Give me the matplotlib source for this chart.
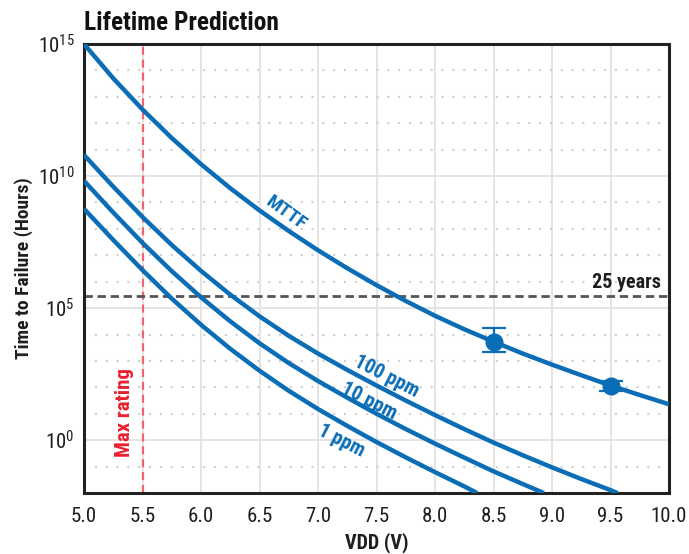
import numpy as np
import matplotlib
matplotlib.use("Agg")
import matplotlib.pyplot as plt
from matplotlib import font_manager as fm
from matplotlib.ticker import FixedLocator, FixedFormatter, NullFormatter


def pick_condensed_font():
    """Return (family, stretch) for the narrowest sans font available."""
    entries = fm.fontManager.ttflist
    names = {f.name for f in entries}
    for n in ["Liberation Sans Narrow", "Roboto Condensed", "Open Sans Condensed",
              "Noto Sans Condensed", "DejaVu Sans Condensed"]:
        if n in names:
            return n, "normal"
    for pref in ["DejaVu Sans", "Noto Sans", "Roboto", "Open Sans"]:
        for f in entries:
            if f.name == pref and str(f.stretch) in ("condensed", "semi-condensed",
                                                     "extra-condensed"):
                return pref, str(f.stretch)
    return "DejaVu Sans", "normal"


FAMILY, STRETCH = pick_condensed_font()
plt.rcParams["font.family"] = [FAMILY, "DejaVu Sans"]
plt.rcParams["font.stretch"] = STRETCH
plt.rcParams["mathtext.fontset"] = "custom"
plt.rcParams["mathtext.rm"] = f"{FAMILY}:stretch={STRETCH}"
plt.rcParams["mathtext.default"] = "rm"

# ---- data (log10 of hours) -------------------------------------------------
vdd = [5.0, 5.25, 5.5, 5.75, 6.0, 6.25, 6.5, 6.75, 7.0, 7.25, 7.5,
       7.75, 8.0, 8.25, 8.5, 8.75, 9.0, 9.25, 9.5, 9.75, 10.0]
mttf_log = [15.0, 13.7, 12.52, 11.44, 10.45, 9.54, 8.7, 7.92, 7.19, 6.51, 5.87,
            5.27, 4.71, 4.2, 3.73, 3.28, 2.86, 2.46, 2.07, 1.71, 1.36]

ppm100_vdd = [5.0, 5.25, 5.5, 5.75, 6.0, 6.25, 6.5, 6.75, 7.0, 7.25, 7.5,
              7.75, 8.0, 8.25, 8.5, 8.75, 9.0, 9.25, 9.5, 9.56]
ppm100_log = [10.8, 9.6, 8.45, 7.39, 6.41, 5.51, 4.69, 3.95, 3.28, 2.66, 2.07,
              1.5, 0.95, 0.42, -0.09, -0.57, -1.03, -1.47, -1.89, -2.0]

ppm10_vdd = [5.0, 5.25, 5.5, 5.75, 6.0, 6.25, 6.5, 6.75, 7.0, 7.25, 7.5,
             7.75, 8.0, 8.25, 8.5, 8.75, 8.93]
ppm10_log = [9.82, 8.62, 7.47, 6.4, 5.41, 4.5, 3.67, 2.92, 2.24, 1.61, 1.0,
             0.42, -0.13, -0.66, -1.18, -1.66, -2.0]

ppm1_vdd = [5.0, 5.25, 5.5, 5.75, 6.0, 6.25, 6.5, 6.75, 7.0, 7.25, 7.5,
            7.75, 8.0, 8.25, 8.36]
ppm1_log = [8.76, 7.58, 6.44, 5.36, 4.37, 3.46, 2.63, 1.87, 1.18, 0.54, -0.07,
            -0.65, -1.21, -1.75, -2.0]

stress_vdd = [8.5, 9.5]
stress_log = [3.73, 2.07]
stress_hi_log = [4.25, 2.23]
stress_lo_log = [3.35, 1.86]

max_rating_vdd = 5.5
target_hours = 2.9e5

xticks = [5.0, 5.5, 6.0, 6.5, 7.0, 7.5, 8.0, 8.5, 9.0, 9.5, 10.0]
ytick_exps = [0, 5, 10, 15]

# ---- styling ---------------------------------------------------------------
BLUE = "#0a6db6"
RED_LINE = "#f0646e"
RED_TEXT = "#e8202e"
DARK = "#1e1e1e"
GRID = "#e2e2e2"

fig = plt.figure(figsize=(6.89, 5.54), dpi=100)
ax = fig.add_axes([84 / 689, 1 - 493 / 554, (669 - 84) / 689, (493 - 44) / 554])
ax.set_yscale("log")
ax.set_xlim(5.0, 10.0)
ax.set_ylim(1e-2, 1e15)

# grid: solid at labelled ticks, dotted at every other decade
ax.xaxis.set_major_locator(FixedLocator(xticks))
ax.set_xticklabels([f"{v:.1f}" for v in xticks])
ax.yaxis.set_major_locator(FixedLocator([10.0 ** e for e in ytick_exps]))
ax.yaxis.set_major_formatter(FixedFormatter([f"$10^{{{e}}}$" for e in ytick_exps]))
ax.yaxis.set_minor_locator(FixedLocator([10.0 ** e for e in range(-1, 15) if e % 5]))
ax.yaxis.set_minor_formatter(NullFormatter())
ax.xaxis.set_minor_locator(FixedLocator([]))
ax.grid(True, which="major", color=GRID, lw=1.3, zorder=0)
ax.grid(True, which="minor", axis="y", color="#cfcfcf", lw=1.5,
        ls=(0, (1, 4.2)), zorder=0)
ax.set_axisbelow(True)

ax.tick_params(which="both", length=0)
ax.tick_params(axis="x", labelsize=15, pad=10, colors=DARK)
ax.tick_params(axis="y", labelsize=15, pad=7, colors=DARK)
for s in ax.spines.values():
    s.set_linewidth(2.2)
    s.set_color("#222222")

# reference lines
ax.axvline(max_rating_vdd, color=RED_LINE, lw=1.6, ls=(0, (3.6, 2.2)), zorder=2)
ax.axhline(target_hours, color="#555555", lw=2.0, ls=(0, (3.0, 1.7)), zorder=2)

# lifetime curves
for xs, ys in [(vdd, mttf_log), (ppm100_vdd, ppm100_log),
               (ppm10_vdd, ppm10_log), (ppm1_vdd, ppm1_log)]:
    ax.plot(xs, 10.0 ** np.array(ys), color=BLUE, lw=3.2, zorder=3,
            solid_joinstyle="round", solid_capstyle="butt")

# measured points with error bars
y_pts = 10.0 ** np.array(stress_log)
y_err = [y_pts - 10.0 ** np.array(stress_lo_log),
         10.0 ** np.array(stress_hi_log) - y_pts]
ax.errorbar(stress_vdd, y_pts, yerr=y_err, fmt="o", ms=12, color=BLUE,
            ecolor=BLUE, elinewidth=1.6, capsize=8.5, capthick=1.6, zorder=4)

# annotations
ax.text(6.73, 10 ** 8.6, "MTTF", color=BLUE, rotation=-36, fontsize=14,
        fontweight="bold", ha="center", va="center")
ax.text(7.59, 10 ** 2.43, "100 ppm", color=BLUE, rotation=-27, fontsize=14.5,
        fontweight="bold", ha="center", va="center")
ax.text(7.44, 10 ** 1.49, "10 ppm", color=BLUE, rotation=-27, fontsize=14.5,
        fontweight="bold", ha="center", va="center")
ax.text(7.2, 10 ** -0.03, "1 ppm", color=BLUE, rotation=-27, fontsize=14.5,
        fontweight="bold", ha="center", va="center")
ax.text(9.93, 10 ** 5.76, "25 years", color=DARK, ha="right", va="baseline",
        fontsize=14.5, fontweight="bold")
ax.text(5.35, 10 ** 1.03, "Max rating", color=RED_TEXT, rotation=90,
        fontsize=15, fontweight="bold", ha="center", va="center")

ax.set_xlabel("VDD (V)", fontsize=14.5, fontweight="bold", color=DARK)
ax.xaxis.set_label_coords(0.5, -0.088)
ax.set_ylabel("Time to Failure (Hours)", fontsize=14, fontweight="bold",
              color=DARK)
ax.yaxis.set_label_coords(-0.088, 0.5)

fig.text(84 / 689, 1 - 30 / 554, "Lifetime Prediction", fontsize=18.3,
         fontweight="bold", color="#111111", ha="left", va="baseline")

fig.savefig("out.png", dpi=100)
